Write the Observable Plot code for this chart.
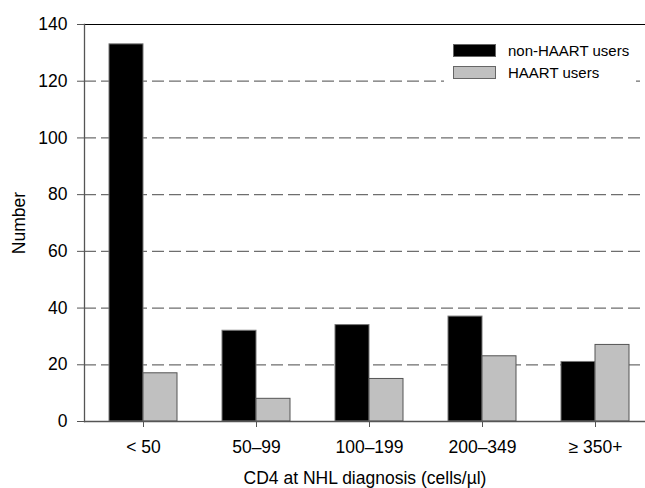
<!DOCTYPE html>
<html>
<head>
<meta charset="utf-8">
<script src="https://cdn.jsdelivr.net/npm/d3@7"></script>
<script src="https://cdn.jsdelivr.net/npm/@observablehq/plot@0.6"></script>
<style>
  body { margin: 0; background: #fff; }
  #wrap { position: relative; width: 645px; height: 488px; overflow: hidden; font-family: "Liberation Sans", Arial, sans-serif; }
  #legend { position: absolute; left: 444px; top: 38px; width: 192px; height: 46px; background: #fff; font-size: 15px; color: #000; }
  .row { position: absolute; left: 9px; height: 13px; display: flex; align-items: center; white-space: nowrap; }
  .sw { width: 41px; height: 11px; border: 1px solid #666; box-sizing: content-box; margin-right: 12px; }
</style>
</head>
<body>
<div id="wrap"></div>
<script>
const categories = ["< 50", "50–99", "100–199", "200–349", "≥ 350+"];
const series = ["non-HAART users", "HAART users"];
const nonHaart = [133, 32, 34, 37, 21];
const haart = [17, 8, 15, 23, 27];
const yTicks = [0, 20, 40, 60, 80, 100, 120, 140];
const colors = ["#000000", "#c0c0c0"];

const data = categories.flatMap((c, i) => [
  {cat: c, series: series[0], value: nonHaart[i]},
  {cat: c, series: series[1], value: haart[i]}
]);

const chart = Plot.plot({
  width: 645,
  height: 488,
  marginLeft: 84,
  marginRight: 0,
  marginTop: 24,
  marginBottom: 67,
  style: {fontFamily: "Liberation Sans, Arial, sans-serif", fontSize: "17.5px", color: "#000", background: "#fff"},
  x: {domain: categories, range: [84, 652.6], paddingInner: 0.4022, paddingOuter: 0.2011},
  y: {domain: [0, 140]},
  marks: [
    Plot.ruleY(yTicks.filter(d => d > 0 && d < 140), {stroke: "#6e6e6e", strokeWidth: 1.3, strokeDasharray: "12,5"}),
    Plot.ruleY([140], {stroke: "#000", strokeWidth: 1.2}),
    Plot.barY(data.filter(d => d.series === series[0]), {x: "cat", y: "value", fill: colors[0], stroke: "#777", strokeWidth: 1, insetRight: 34}),
    Plot.barY(data.filter(d => d.series === series[1]), {x: "cat", y: "value", fill: colors[1], stroke: "#555", strokeWidth: 1, insetLeft: 34}),
    Plot.ruleY([0], {stroke: "#555", strokeWidth: 1.3}),
    Plot.frame({anchor: "left", stroke: "#555", strokeWidth: 1.3}),
    Plot.axisY({ticks: yTicks, tickSize: 7, tickPadding: 10, stroke: "#555", label: "Number", labelAnchor: "center", labelArrow: "none", labelOffset: 72}),
    Plot.axisX({tickSize: 6, tickPadding: 13, stroke: "#555", label: "CD4 at NHL diagnosis (cells/µl)", labelAnchor: "center", labelArrow: "none", labelOffset: 62})
  ]
});
const wrap = document.getElementById("wrap");
wrap.appendChild(chart);

const legend = document.createElement("div");
legend.id = "legend";
series.forEach((s, i) => {
  const row = document.createElement("div");
  row.className = "row";
  row.style.top = (6 + i * 22) + "px";
  const sw = document.createElement("span");
  sw.className = "sw";
  sw.style.background = colors[i];
  const t = document.createElement("span");
  t.textContent = s;
  row.appendChild(sw);
  row.appendChild(t);
  legend.appendChild(row);
});
wrap.appendChild(legend);
</script>
</body>
</html>
